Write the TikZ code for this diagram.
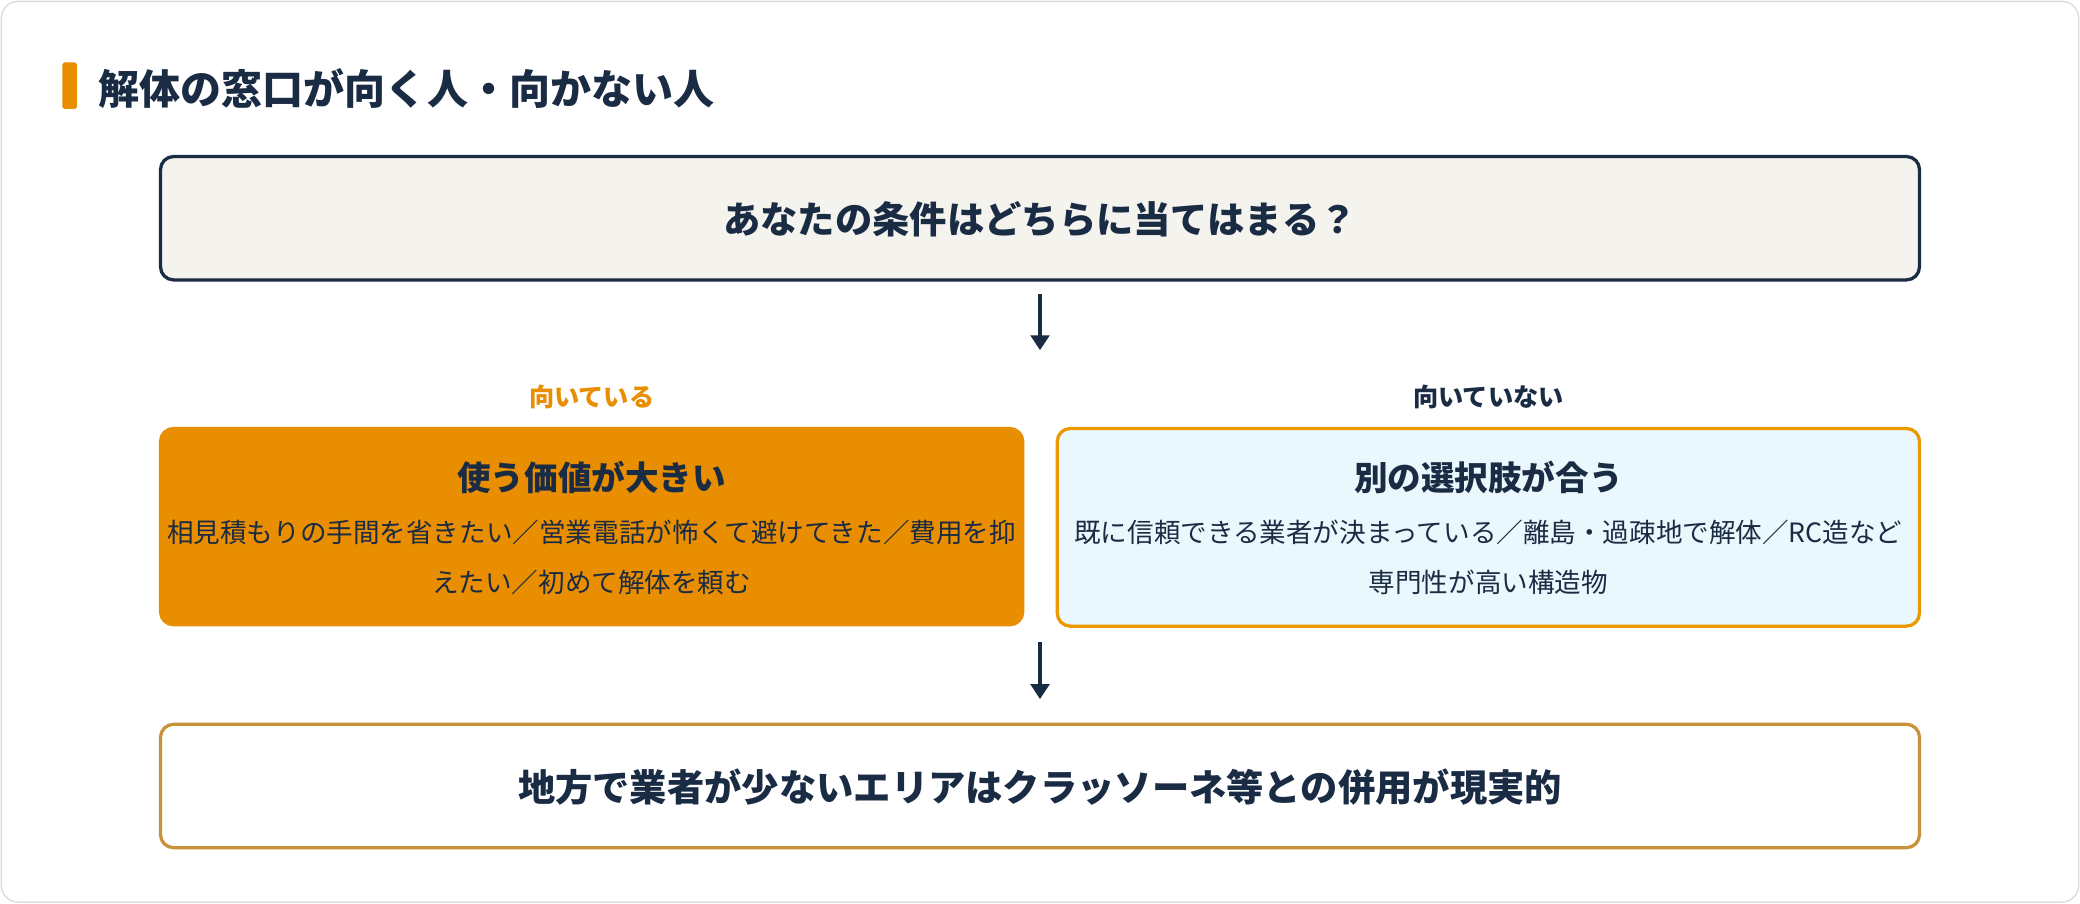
\documentclass[tikz,border=0pt]{standalone}
\usepackage{fontspec}
\setmainfont{Noto Sans CJK JP}
\usetikzlibrary{arrows.meta}
\definecolor{navy}{HTML}{1A2B44}
\definecolor{org}{HTML}{E88E00}
\definecolor{lblue}{HTML}{EAF7FC}
\definecolor{beige}{HTML}{F5F3EE}
\definecolor{gold}{HTML}{C8923A}
\begin{document}
\begin{tikzpicture}[x=0.05cm,y=-0.05cm,
  box/.style={rounded corners=14pt,line width=3.5pt},
  arr/.style={navy,line width=3.5pt,-{Triangle[length=16pt,width=20pt]}},
  txt/.style={font=\fontsize{40}{48}\selectfont\bfseries,text=navy}]
\useasboundingbox (0,0) rectangle (1568,681);
\draw[rounded corners=18pt,fill=white,draw=beige!80!gray,line width=1.5pt] (1,1) rectangle (1567,680);
\fill[org,rounded corners=2pt] (47,47) rectangle (58,82);
\node[anchor=west,txt,font=\fontsize{44}{50}\selectfont\bfseries] (title) at (72,67) {解体の窓口が向く人・向かない人};
\draw[box,fill=beige,draw=navy] (121,118) rectangle (1447,211);
\node[txt] (q) at (784,165) {あなたの条件はどちらに当てはまる？};
\coordinate (a1s) at (784,222); \coordinate (a1e) at (784,264);
\draw[arr] (a1s) -- (a1e);
\node[font=\fontsize{27}{32}\selectfont\bfseries,text=org] (l1) at (446,299) {向いている};
\node[font=\fontsize{27}{32}\selectfont\bfseries,text=navy] (l2) at (1122,299) {向いていない};
\draw[box,fill=org,draw=org] (121,323) rectangle (771,471);
\node[font=\fontsize{36}{40}\selectfont\bfseries,text=navy] (t1) at (446,360) {使う価値が大きい};
\node[font=\fontsize{28.5}{54}\selectfont,text=navy,align=center] (b1) at (446,420) {相見積もりの手間を省きたい／営業電話が怖くて避けてきた／費用を抑\\えたい／初めて解体を頼む};
\draw[box,fill=lblue,draw=org!90!yellow] (797,323) rectangle (1447,472);
\node[font=\fontsize{36}{40}\selectfont\bfseries,text=navy] (t2) at (1122,360) {別の選択肢が合う};
\node[font=\fontsize{28.5}{54}\selectfont,text=navy,align=center] (b2) at (1122,420) {既に信頼できる業者が決まっている／離島・過疎地で解体／RC造など\\専門性が高い構造物};
\coordinate (a2s) at (784,484); \coordinate (a2e) at (784,527);
\draw[arr] (a2s) -- (a2e);
\draw[box,fill=white,draw=gold] (121,546) rectangle (1447,639);
\node[txt] (c) at (784,593) {地方で業者が少ないエリアはクラッソーネ等との併用が現実的};
\end{tikzpicture}
\end{document}
